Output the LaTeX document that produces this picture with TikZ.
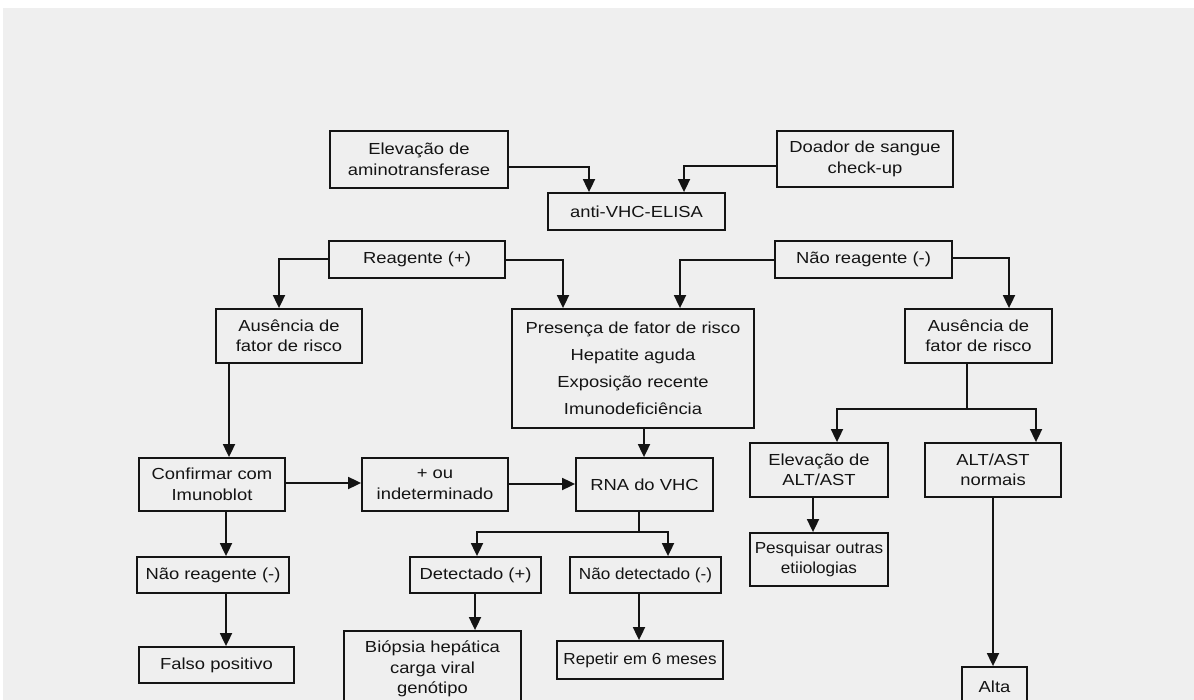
\documentclass[tikz,border=0pt]{standalone}
\usepackage{fontspec}
\setmainfont{Liberation Sans}[FakeStretch=1.15]
\newfontfamily\narrowfont{Liberation Sans}[FakeStretch=1.07]
\usetikzlibrary{arrows.meta}
\definecolor{bg}{RGB}{239,239,239}
\definecolor{ink}{RGB}{20,20,20}
\begin{document}
\begin{tikzpicture}[x=1pt,y=-1pt,
  box/.style={draw=ink, line width=1.8pt, inner sep=0pt, align=center,
    font=\fontsize{16}{20.5}\selectfont, text=ink},
  narrowbox/.style={box, font=\narrowfont\fontsize{16}{20.5}\selectfont},
  conn/.style={draw=ink, line width=1.8pt},
  arr/.style={conn, -{Triangle[width=12pt,length=13pt]}}]
\useasboundingbox (0,0) rectangle (1194,700);
\clip (0,0) rectangle (1194,700);
\fill[white] (0,0) rectangle (1194,700);
\fill[bg] (3,8) rectangle (1194,700);

% boxes
\node[box, minimum width=178pt, minimum height=57pt] (elev) at (419,159.5) {Elevação de\\aminotransferase};
\node[box, minimum width=176pt, minimum height=56pt] (doador) at (865,159) {Doador de sangue\\check-up};
\node[box, minimum width=177pt, minimum height=37pt] (elisa) at (636.5,211.5) {anti-VHC-ELISA};
\node[box, minimum width=176pt, minimum height=37pt] (reag) at (417,259.5) {Reagente (+)};
\node[box, minimum width=177pt, minimum height=37pt] (naoreag) at (863.5,259.5) {Não reagente (-)};
\node[box, minimum width=146pt, minimum height=54pt] (ausL) at (289,336) {Ausência de\\fator de risco};
\node[box, minimum width=242pt, minimum height=119pt, font=\fontsize{16}{27}\selectfont] (pres) at (633,368.5)
  {Presença de fator de risco\\Hepatite aguda\\Exposição recente\\Imunodeficiência};
\node[box, minimum width=147pt, minimum height=54pt] (ausR) at (978.5,336) {Ausência de\\fator de risco};
\node[box, minimum width=146pt, minimum height=53pt] (conf) at (212,484.5) {Confirmar com\\Imunoblot};
\node[box, minimum width=146pt, minimum height=53pt] (ouind) at (435,484.5) {+ ou\\indeterminado};
\node[box, minimum width=137pt, minimum height=53pt] (rna) at (644.5,484.5) {RNA do VHC};
\node[box, minimum width=138pt, minimum height=54pt] (elevalt) at (819,470) {Elevação de\\ALT/AST};
\node[box, minimum width=136pt, minimum height=54pt] (normais) at (993,470) {ALT/AST\\normais};
\node[narrowbox, minimum width=138pt, minimum height=53pt] (pesq) at (819,559.5) {Pesquisar outras\\etiiologias};
\node[box, minimum width=152pt, minimum height=36pt] (naoreag2) at (213,575) {Não reagente (-)};
\node[box, minimum width=131pt, minimum height=36pt] (detect) at (475.5,575) {Detectado (+)};
\node[narrowbox, minimum width=151pt, minimum height=36pt] (naodet) at (645.5,575) {Não detectado (-)};
\node[box, minimum width=155pt, minimum height=36pt, text width=155pt, align=center, xshift=-3pt] (falso) at (219.5,665) {Falso positivo};
\node[box, minimum width=177pt, minimum height=76pt] (biop) at (432.5,669) {Biópsia hepática\\carga viral\\genótipo};
\node[narrowbox, minimum width=166pt, minimum height=38pt] (repetir) at (640,660) {Repetir em 6 meses};
\node[box, minimum width=65pt, minimum height=40pt] (alta) at (994.5,687) {Alta};

% connectors
\draw[arr] ([yshift=-7.5pt]elev.east) -| ([xshift=-47.5pt]elisa.north);
\draw[arr] ([yshift=-7pt]doador.west) -| ([xshift=47.5pt]elisa.north);
\draw[arr] ([yshift=0.5pt]reag.west) -| ([xshift=-10pt]ausL.north);
\draw[arr] ([yshift=-0.5pt]reag.east) -| ([xshift=-70pt]pres.north);
\draw[arr] ([yshift=-0.5pt]naoreag.west) -| ([xshift=47pt]pres.north);
\draw[arr] ([yshift=1.5pt]naoreag.east) -| ([xshift=30.5pt]ausR.north);
\draw[arr] ([xshift=-60pt]ausL.south) -- ([xshift=-60pt]ausL.south |- conf.north);
\draw[arr] ([xshift=11pt]pres.south) -- ([xshift=11pt]pres.south |- rna.north);
\draw[arr] ([yshift=1.5pt]conf.east) -- ([yshift=1.5pt]ouind.west);
\draw[arr] ([yshift=0.5pt]ouind.east) -- ([yshift=0.5pt]rna.west);
\coordinate (rnaj) at ([xshift=-5.5pt,yshift=-20pt]rna.south);
\draw[conn] ([xshift=-5.5pt]rna.south) -- (rnaj);
\draw[arr] (rnaj) -| ([xshift=1.5pt]detect.north);
\draw[arr] (rnaj) -| ([xshift=22.5pt]naodet.north);
\draw[arr] ([xshift=14pt]conf.south) -- ([xshift=14pt]conf.south |- naoreag2.north);
\draw[arr] ([xshift=13pt]naoreag2.south) -- ([xshift=13pt]naoreag2.south |- falso.north);
\draw[arr] ([xshift=-0.5pt]detect.south) -- ([xshift=-0.5pt]detect.south |- biop.north);
\draw[arr] ([xshift=-6.5pt]naodet.south) -- ([xshift=-6.5pt]naodet.south |- repetir.north);
\coordinate (ausj) at ([xshift=-11.5pt,yshift=-45pt]ausR.south);
\draw[conn] ([xshift=-11.5pt]ausR.south) -- (ausj);
\draw[arr] (ausj) -| ([xshift=18pt]elevalt.north);
\draw[arr] (ausj) -| ([xshift=43pt]normais.north);
\draw[arr] ([xshift=-6pt]elevalt.south) -- ([xshift=-6pt]elevalt.south |- pesq.north);
\draw[arr] (normais.south) -- (normais.south |- alta.north);
\end{tikzpicture}
\end{document}
